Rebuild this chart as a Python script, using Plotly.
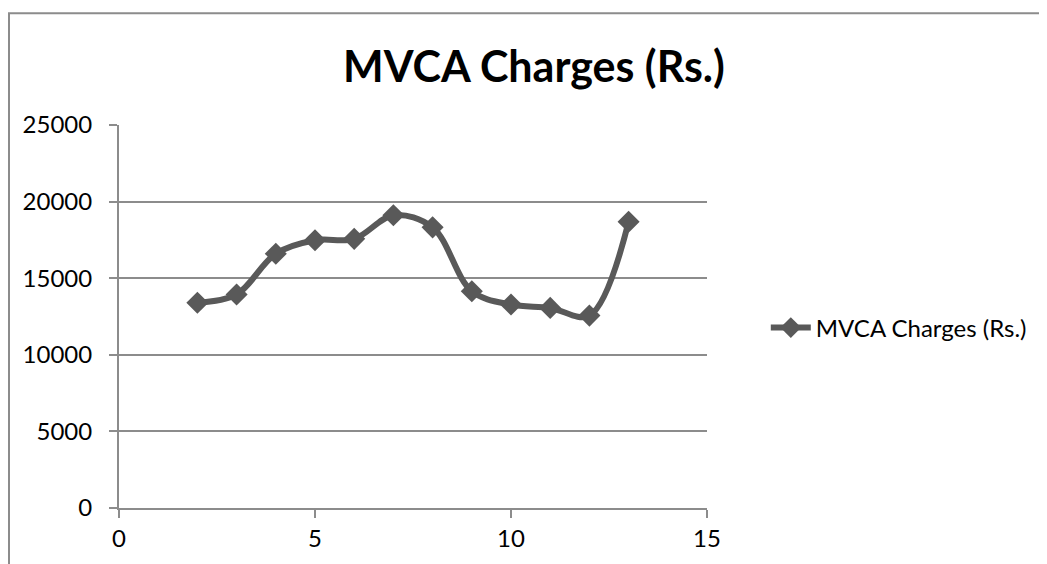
import plotly.graph_objects as go

# data
months = [2, 3, 4, 5, 6, 7, 8, 9, 10, 11, 12, 13]
charges = [13400, 13940, 16600, 17480, 17570, 19110, 18320, 14150, 13280, 13060, 12560, 18680]
series_name = "MVCA Charges (Rs.)"
x_ticks = [0, 5, 10, 15]
y_ticks = [0, 5000, 10000, 15000, 20000, 25000]

GREY_LINE = "#595959"
GRID = "#8c8c8c"
FONT = "Lato"

# page body adds an 8px offset, so the margins are shifted back by that
fig = go.Figure()
fig.add_trace(go.Scatter(
    x=months, y=charges,
    mode="lines+markers",
    name=series_name,
    line=dict(color=GREY_LINE, width=6, shape="spline", smoothing=1),
    marker=dict(symbol="diamond", size=17, color=GREY_LINE),
))

fig.update_layout(
    width=1047, height=564,
    margin=dict(l=111, r=348, t=117, b=64, autoexpand=False),
    paper_bgcolor="white", plot_bgcolor="white",
    font=dict(family=FONT, size=24, color="black"),
    title=dict(text="<b>MVCA Charges (Rs.)</b>", font=dict(size=43, family=FONT),
               x=526 / 1047, xanchor="center", xref="container",
               y=1 - 59 / 564, yanchor="middle", yref="container"),
    showlegend=True,
    legend=dict(x=1.10, xanchor="left", y=0.47, yanchor="middle",
                itemwidth=40, font=dict(size=24), bgcolor="rgba(0,0,0,0)"),
)

fig.update_xaxes(
    range=[0, 15], tickvals=x_ticks, ticktext=[str(v) for v in x_ticks],
    showgrid=False, zeroline=False, automargin=False,
    showline=True, linecolor=GRID, linewidth=2,
    ticks="outside", ticklen=8, tickcolor=GRID, tickwidth=2,
)
fig.update_yaxes(
    range=[0, 25000], tickvals=y_ticks, ticktext=[str(v) for v in y_ticks],
    showgrid=True, gridcolor=GRID, gridwidth=2, automargin=False,
    zeroline=False, showline=True, linecolor=GRID, linewidth=2,
    ticks="outside", ticklen=8, tickcolor=GRID, tickwidth=2, ticklabelstandoff=12,
)

# outer chart-area border (partly cropped, as in the reference)
fig.add_shape(type="rect", xref="paper", yref="paper",
              x0=(9 - 119) / 588, x1=2.0, y0=-0.5, y1=(507.3 - 13) / 382.6,
              line=dict(color=GRID, width=2), layer="below")

fig.write_html("out.html")
